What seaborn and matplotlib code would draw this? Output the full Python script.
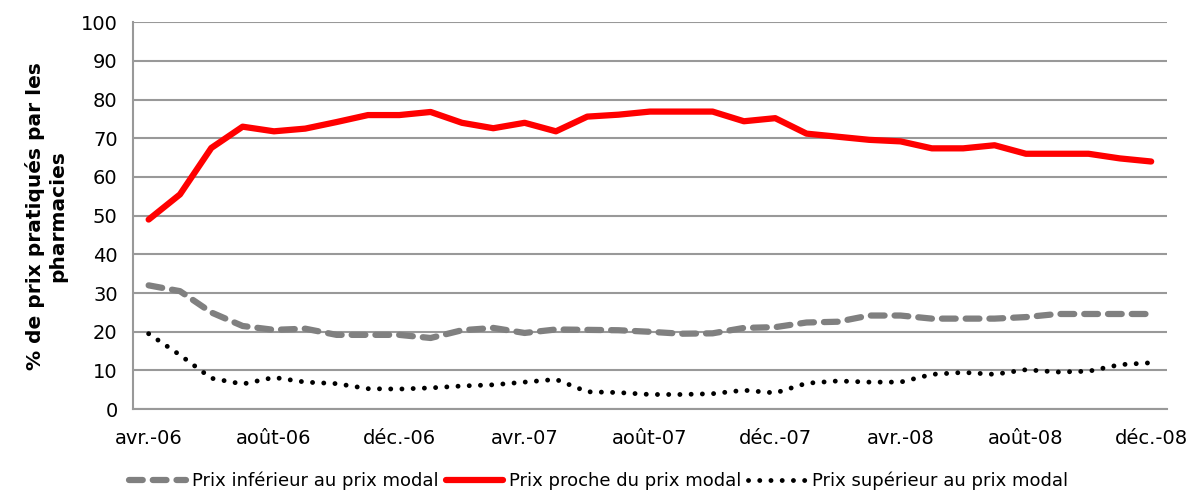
import numpy as np
import pandas as pd
import seaborn as sns
import matplotlib.pyplot as plt

mois = ["avr.-06", "mai-06", "juin-06", "juil.-06", "août-06", "sept.-06", "oct.-06", "nov.-06",
        "déc.-06", "janv.-07", "févr.-07", "mars-07", "avr.-07", "mai-07", "juin-07", "juil.-07",
        "août-07", "sept.-07", "oct.-07", "nov.-07", "déc.-07", "janv.-08", "févr.-08", "mars-08",
        "avr.-08", "mai-08", "juin-08", "juil.-08", "août-08", "sept.-08", "oct.-08", "nov.-08",
        "déc.-08"]

prix_inferieur = [32, 30.5, 25, 21.5, 20.5, 20.8, 19.2, 19.2, 19.2, 18.4, 20.4, 21, 19.7,
                  20.6, 20.5, 20.4, 20, 19.5, 19.6, 21, 21.2, 22.4, 22.6, 24.2, 24.2, 23.4,
                  23.4, 23.4, 23.8, 24.6, 24.6, 24.6, 24.6]
prix_proche = [49, 55.5, 67.5, 73, 71.8, 72.5, 74.2, 76, 76, 76.8, 74, 72.6, 74, 71.8, 75.6,
               76.1, 76.9, 76.9, 76.9, 74.4, 75.2, 71.2, 70.4, 69.6, 69.2, 67.4, 67.4, 68.2,
               66, 66, 66, 64.8, 64]
prix_superieur = [19.5, 14, 8, 6.5, 8.2, 7, 6.6, 5.3, 5.2, 5.5, 6, 6.3, 7, 7.7, 4.5, 4.3,
                  3.8, 3.8, 4, 4.9, 4.2, 6.7, 7.3, 7, 7, 9, 9.5, 9, 10.2, 9.6, 9.8, 11.5, 12]

sns.set_style("white")
plt.rcParams['font.family'] = ['DejaVu Sans']
plt.rcParams['text.color'] = 'black'
plt.rcParams['axes.labelcolor'] = 'black'
plt.rcParams['xtick.labelcolor'] = 'black'
plt.rcParams['ytick.labelcolor'] = 'black'

fig = plt.figure(figsize=(11.98, 4.93), dpi=100)
ax = fig.add_axes([0.111, 0.170, 0.863, 0.785])

x = np.arange(len(mois))
df = pd.DataFrame({"x": x, "inf": prix_inferieur, "proche": prix_proche, "sup": prix_superieur})

sns.lineplot(data=df, x="x", y="inf", ax=ax, color="#808080", linewidth=4.5,
             label="Prix inférieur au prix modal")
ax.lines[-1].set_dashes((2.2, 1.6))
ax.lines[-1].set_dash_capstyle("round")
sns.lineplot(data=df, x="x", y="proche", ax=ax, color="#ff0000", linewidth=4.5,
             label="Prix proche du prix modal")
sns.lineplot(data=df, x="x", y="sup", ax=ax, color="black", linewidth=3.5,
             label="Prix supérieur au prix modal")
ax.lines[-1].set_dashes((0.01, 2.3))
ax.lines[-1].set_dash_capstyle("round")

ax.set_xlim(-0.5, len(mois) - 0.5)
ax.set_ylim(0, 100)
ax.set_yticks(range(0, 101, 10))
ax.yaxis.grid(True, color="#999999", linewidth=1.5)
ax.set_axisbelow(True)

major = x[::4]
ax.set_xticks(major)
ax.set_xticklabels([mois[i] for i in major], fontsize=14)
ax.set_xticks(major[1:] - 0.5, minor=True)
ax.tick_params(axis="x", which="major", length=0, pad=14)
ax.tick_params(axis="x", which="minor", length=6, width=1.5, color="#999999", direction="in")
ax.tick_params(axis="y", length=5, width=1.5, color="#999999", labelsize=14, direction="out",
               pad=6)

for side in ["top", "right"]:
    ax.spines[side].set_visible(False)
for side in ["left", "bottom"]:
    ax.spines[side].set_color("#999999")
    ax.spines[side].set_linewidth(1.5)

ax.set_xlabel("")
ax.set_ylabel("% de prix pratiqués par les\npharmacies", fontsize=14.5, fontweight="bold",
              labelpad=10)

ax.legend(loc="upper center", bbox_to_anchor=(0.45, -0.12), ncol=3, frameon=False,
          fontsize=13, handlelength=3.2, columnspacing=0.4, handletextpad=0.3)

plt.savefig("out.png", dpi=100)
